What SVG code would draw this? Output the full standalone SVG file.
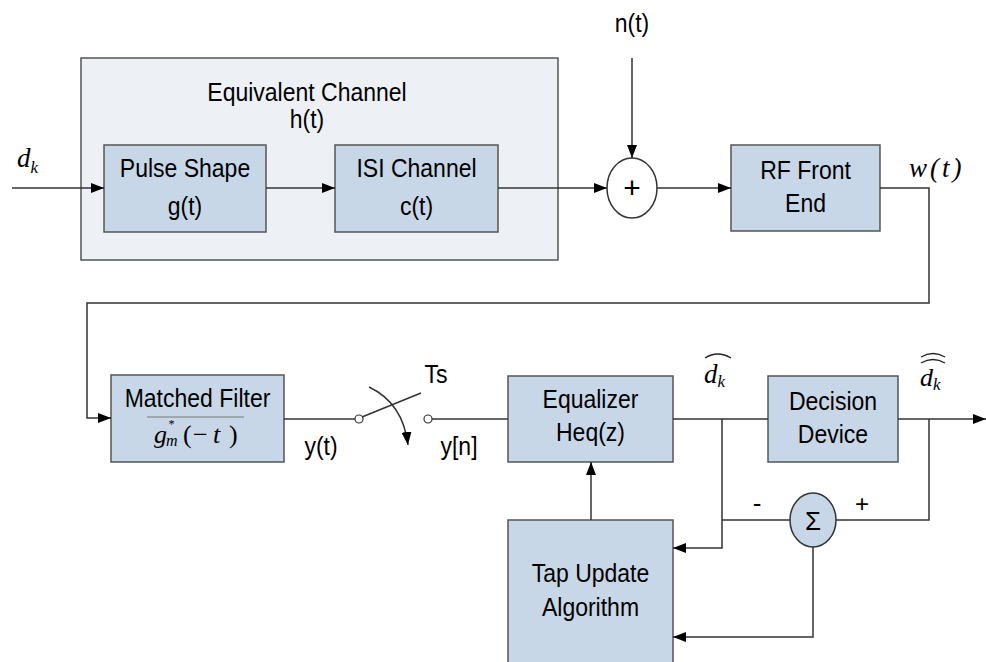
<svg xmlns="http://www.w3.org/2000/svg" width="986" height="662" viewBox="0 0 986 662">
<defs>
<style>
.box{fill:#C8D7E7;stroke:#555;stroke-width:1.5}
.cont{fill:#EDF1F6;stroke:#555;stroke-width:1.5}
.wire{fill:none;stroke:#333;stroke-width:1.5}
.hat{fill:none;stroke:#222;stroke-width:1.3}
.lbl{font-family:"Liberation Sans",Arial,sans-serif;font-size:23px;text-anchor:middle;fill:#000}
.math{font-family:"Liberation Serif","Times New Roman",serif;font-style:italic;fill:#000}
.up{font-style:normal}
</style>
<marker id="arr" markerUnits="userSpaceOnUse" markerWidth="13" markerHeight="10" refX="13" refY="5" orient="auto">
<path d="M0,0 L13,5 L0,10 z" fill="#000"/>
</marker>
</defs>
<rect width="986" height="662" fill="#fff"/>

<g id="equivalent-channel">
<rect class="cont" x="81" y="58" width="477" height="202"/>
<text class="lbl" transform="translate(307 101) scale(1 1.13)">Equivalent Channel</text>
<text class="lbl" transform="translate(307 128) scale(1 1.13)">h(t)</text>
</g>

<g id="pulse-shape">
<rect class="box" x="104" y="145" width="162" height="87"/>
<text class="lbl" transform="translate(185 177) scale(1 1.13)">Pulse Shape</text>
<text class="lbl" transform="translate(185 215) scale(1 1.13)">g(t)</text>
</g>

<g id="isi-channel">
<rect class="box" x="335" y="145" width="163" height="87"/>
<text class="lbl" transform="translate(416.5 177) scale(1 1.13)">ISI Channel</text>
<text class="lbl" transform="translate(416.5 215) scale(1 1.13)">c(t)</text>
</g>

<g id="adder">
<ellipse cx="632" cy="188" rx="25" ry="30" fill="#fff" stroke="#333" stroke-width="1.5"/>
<text class="lbl" x="632" y="198" style="font-size:30px">+</text>
</g>

<g id="rf-front-end">
<rect class="box" x="731" y="145" width="149" height="86"/>
<text class="lbl" transform="translate(805.5 179) scale(1 1.13)">RF Front</text>
<text class="lbl" transform="translate(805.5 212) scale(1 1.13)">End</text>
</g>

<g id="matched-filter">
<rect class="box" x="111" y="375" width="173" height="87"/>
<text class="lbl" transform="translate(197.5 407) scale(1 1.13)">Matched Filter</text>
<line x1="147" y1="417" x2="244" y2="417" stroke="#777" stroke-width="1"/>
<text class="math" y="443" style="font-size:26px"><tspan x="154">g</tspan><tspan x="168" dy="-15" style="font-size:12px">*</tspan><tspan x="166" dy="18" style="font-size:16px">m</tspan><tspan class="up" x="183" dy="-3">(</tspan><tspan class="up" x="193">−</tspan><tspan x="213">t</tspan><tspan class="up" x="229">)</tspan></text>
</g>

<g id="sampler">
<circle cx="359" cy="419" r="4" fill="#fff" stroke="#333" stroke-width="1.2"/>
<circle cx="428" cy="419" r="4" fill="#fff" stroke="#333" stroke-width="1.2"/>
<line class="wire" x1="362" y1="417" x2="421" y2="393"/>
<path class="wire" d="M369 387 Q403 403 408 445" marker-end="url(#arr)"/>
<text class="lbl" transform="translate(436 383) scale(1 1.13)">Ts</text>
</g>

<g id="equalizer">
<rect class="box" x="508" y="376" width="165" height="86"/>
<text class="lbl" transform="translate(590.5 408) scale(1 1.13)">Equalizer</text>
<text class="lbl" transform="translate(590.5 441) scale(1 1.13)">Heq(z)</text>
</g>

<g id="decision-device">
<rect class="box" x="768" y="376" width="130" height="86"/>
<text class="lbl" transform="translate(833 410) scale(1 1.13)">Decision</text>
<text class="lbl" transform="translate(833 443) scale(1 1.13)">Device</text>
</g>

<g id="error-sum">
<ellipse cx="813" cy="520" rx="23" ry="27" fill="#C8D7E7" stroke="#333" stroke-width="1.5"/>
<text class="lbl" x="813" y="530" style="font-size:26px">Σ</text>
</g>

<g id="tap-update">
<rect class="box" x="508" y="520" width="165" height="146"/>
<text class="lbl" transform="translate(590.5 582) scale(1 1.13)">Tap Update</text>
<text class="lbl" transform="translate(590.5 616) scale(1 1.13)">Algorithm</text>
</g>

<g id="connectors">
<path class="wire" d="M12 188 H104" marker-end="url(#arr)"/>
<path class="wire" d="M266 188 H335" marker-end="url(#arr)"/>
<path class="wire" d="M498 188 H607" marker-end="url(#arr)"/>
<path class="wire" d="M632 58 V158" marker-end="url(#arr)"/>
<path class="wire" d="M657 188 H731" marker-end="url(#arr)"/>
<path class="wire" d="M880 188 H929 V303 H87 V418 H111" marker-end="url(#arr)"/>
<path class="wire" d="M284 419 H355"/>
<path class="wire" d="M432 419 H508"/>
<path class="wire" d="M673 419 H768"/>
<path class="wire" d="M722 419 V548 H673" marker-end="url(#arr)"/>
<path class="wire" d="M722 520 H790"/>
<path class="wire" d="M898 419 H986" marker-end="url(#arr)"/>
<path class="wire" d="M929 419 V520 H836"/>
<path class="wire" d="M813 547 V637 H673" marker-end="url(#arr)"/>
<path class="wire" d="M591 520 V462" marker-end="url(#arr)"/>
</g>

<g id="labels">
<text class="lbl" transform="translate(632 32) scale(1 1.13)">n(t)</text>
<text class="math" x="17" y="167" style="font-size:27px">d<tspan dy="6" style="font-size:17px">k</tspan></text>
<text class="math" x="909" y="177" style="font-size:27px;letter-spacing:3px">w(t)</text>
<text class="lbl" transform="translate(321 455) scale(1 1.13)">y(t)</text>
<text class="lbl" transform="translate(459 455) scale(1 1.13)">y[n]</text>
<text class="math" x="704" y="383" style="font-size:27px">d<tspan dy="4" style="font-size:17px">k</tspan></text>
<path class="hat" d="M705 358 Q717.5 350 731 358"/>
<text class="math" x="920" y="386" style="font-size:26px">d<tspan dy="4" style="font-size:17px">k</tspan></text>
<path class="hat" d="M921 357 Q933 350 945 357"/>
<path class="hat" d="M921 363 Q933 356 945 363"/>
<text class="lbl" x="757" y="512" style="font-size:26px">-</text>
<text class="lbl" x="862" y="512" style="font-size:24px">+</text>
</g>
</svg>
